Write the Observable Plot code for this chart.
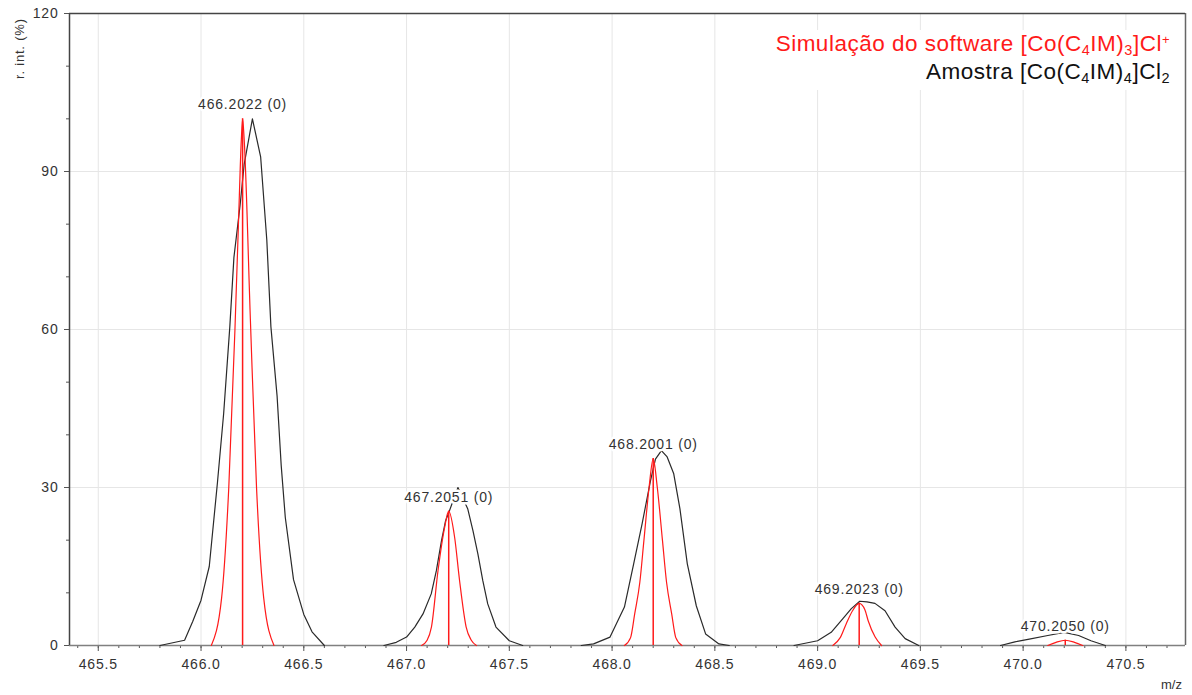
<!DOCTYPE html>
<html>
<head>
<meta charset="utf-8">
<script src="https://cdn.jsdelivr.net/npm/d3@7"></script>
<script src="https://cdn.jsdelivr.net/npm/@observablehq/plot@0.6"></script>
<style>
  html, body { margin: 0; padding: 0; background: #fff; }
  #wrap { position: relative; width: 1192px; height: 695px; font-family: "Liberation Sans", Arial, sans-serif; }
  #wrap svg text { letter-spacing: 0.8px; }
  #legend { position: absolute; left: 766px; top: 30px; width: 404px; height: 60px; background: #fff;
            text-align: right; font-size: 22.5px; line-height: 28px; letter-spacing: 0.5px; }
  #legend sub { font-size: 14.5px; vertical-align: -4px; line-height: 0; }
  #legend sup { font-size: 13px; vertical-align: 7px; line-height: 0; }
  .ytitle { position: absolute; left: 20px; top: 13px; font-size: 13px; color: #333; letter-spacing: 0.8px;
            transform-origin: 0 0; transform: translate(-8px, 66px) rotate(-90deg); white-space: nowrap; }
  .xtitle { position: absolute; left: 1161px; top: 677px; font-size: 13px; color: #333; }
</style>
</head>
<body>
<div id="wrap">
  <div id="chart"></div>
  <div id="legend">
    <div style="color:#ff1a1a">Simulação do software [Co(C<sub>4</sub>IM)<sub>3</sub>]Cl<sup>+</sup></div>
    <div style="color:#111">Amostra [Co(C<sub>4</sub>IM)<sub>4</sub>]Cl<sub>2</sub></div>
  </div>
  <div class="ytitle">r. int. (%)</div>
  <div class="xtitle">m/z</div>
</div>
<script>
// ---- Data ----
// simulated isotope sticks
const stickMz = [466.2022, 467.2051, 468.2001, 469.2023, 470.2050];
const stickInt = [100, 25.5, 35.5, 8.0, 1.0];
const stickLabels = ["466.2022 (0)", "467.2051 (0)", "468.2001 (0)", "469.2023 (0)", "470.2050 (0)"];

// measured sample profile (black), one array per peak
const sample1Mz  = [465.80, 465.92, 465.96, 466.00, 466.04, 466.08, 466.11, 466.14, 466.16, 466.19, 466.21, 466.25, 466.29, 466.32, 466.34, 466.37, 466.39, 466.41, 466.45, 466.50, 466.54, 466.60];
const sample1Int = [0, 1, 4.6, 8.6, 15, 31, 44, 60.5, 73.7, 83.6, 91.4, 100, 92.8, 77, 60.5, 47.4, 34.2, 24.3, 12.5, 5.9, 2.6, 0];
const sample2Mz  = [466.89, 466.95, 467.00, 467.04, 467.08, 467.12, 467.145, 467.17, 467.19, 467.206, 467.25, 467.298, 467.323, 467.347, 467.371, 467.395, 467.435, 467.50, 467.565];
const sample2Int = [0, 0.6, 1.6, 3.5, 6.0, 9.8, 14.2, 19.9, 23.7, 25.3, 30, 25.9, 21.8, 17.4, 12.3, 7.9, 3.5, 0.9, 0];
const sample3Mz  = [467.85, 467.91, 467.99, 468.06, 468.105, 468.146, 468.187, 468.211, 468.24, 468.268, 468.30, 468.33, 468.366, 468.41, 468.455, 468.52, 468.57];
const sample3Int = [0, 0.3, 1.6, 7.3, 15.5, 23.1, 31.3, 35.4, 37, 35.8, 32.6, 26, 15.5, 7.5, 2.2, 0.3, 0];
const sample4Mz  = [468.885, 469.00, 469.066, 469.123, 469.164, 469.205, 469.24, 469.279, 469.328, 469.377, 469.426, 469.492];
const sample4Int = [0, 0.9, 2.5, 5.1, 7.0, 8.4, 8.3, 8.0, 6.6, 3.5, 1.3, 0];
const sample5Mz  = [469.89, 469.96, 470.03, 470.12, 470.20, 470.27, 470.33, 470.40];
const sample5Int = [0, 0.7, 1.2, 1.9, 2.5, 1.9, 0.9, 0];

// simulated profile (red), one array per peak
const sim1Mz  = [466.05, 466.10, 466.135, 466.165, 466.182, 466.196, 466.2022, 466.21, 466.24, 466.27, 466.305, 466.355];
const sim1Int = [0, 9, 30, 60, 80, 96, 100, 96, 62, 30, 9, 0];
const sim2Mz  = [467.073, 467.10, 467.121, 467.153, 467.185, 467.2051, 467.234, 467.258, 467.29, 467.315, 467.34];
const sim2Int = [0, 1, 3.5, 14.2, 22.4, 25.5, 20.5, 12.3, 3.5, 1, 0];
const sim3Mz  = [468.06, 468.09, 468.11, 468.135, 468.155, 468.18, 468.2001, 468.22, 468.245, 468.265, 468.29, 468.31, 468.34];
const sim3Int = [0, 1.5, 6, 12, 20, 30, 35.5, 30, 20, 12, 6, 1.5, 0];
const sim4Mz  = [469.074, 469.11, 469.139, 469.17, 469.2023, 469.23, 469.246, 469.28, 469.311];
const sim4Int = [0, 1.5, 4.1, 6.6, 8, 6.8, 4.7, 1.6, 0];
const sim5Mz  = [470.12, 470.16, 470.205, 470.25, 470.29];
const sim5Int = [0, 0.6, 1.0, 0.6, 0];

const xTicks = [465.5, 466.0, 466.5, 467.0, 467.5, 468.0, 468.5, 469.0, 469.5, 470.0, 470.5];
const yTicks = [0, 30, 60, 90, 120];

// ---- build tables ----
const toRows = (mzs, ints, g) => mzs.map((m, i) => ({mz: m, v: ints[i], g}));
const sample = [
  ...toRows(sample1Mz, sample1Int, 1), ...toRows(sample2Mz, sample2Int, 2),
  ...toRows(sample3Mz, sample3Int, 3), ...toRows(sample4Mz, sample4Int, 4),
  ...toRows(sample5Mz, sample5Int, 5)
];
const sim = [
  ...toRows(sim1Mz, sim1Int, 1), ...toRows(sim2Mz, sim2Int, 2),
  ...toRows(sim3Mz, sim3Int, 3), ...toRows(sim4Mz, sim4Int, 4),
  ...toRows(sim5Mz, sim5Int, 5)
];
const sticks = stickMz.map((m, i) => ({mz: m, v: stickInt[i], label: stickLabels[i]}));

const xDomain = [465.36, 470.79];
const minorX = d3.range(4654, 4708).map(d => d / 10).filter(d => d > xDomain[0] && d < xDomain[1]);
const minorY = d3.range(0, 121, 10);

const chart = Plot.plot({
  width: 1192,
  height: 695,
  marginLeft: 69,
  marginRight: 7,
  marginTop: 13,
  marginBottom: 50,
  style: {fontFamily: "'Liberation Sans', Arial, sans-serif", background: "#fff", overflow: "visible"},
  x: {domain: xDomain, label: null},
  y: {domain: [0, 120], label: null},
  marks: [
    Plot.gridX(xTicks, {stroke: "#e6e6e6", strokeOpacity: 1}),
    Plot.gridY([30, 60, 90], {stroke: "#e6e6e6", strokeOpacity: 1}),
    Plot.axisX(minorX, {tickSize: 3, text: null, stroke: "#555", label: null}),
    Plot.axisX(xTicks, {tickSize: 6, tickPadding: 8, tickFormat: d3.format(".1f"), fontSize: 14, fill: "#333", stroke: "#555", label: null}),
    Plot.axisY(minorY, {tickSize: 3, text: null, stroke: "#555", label: null}),
    Plot.axisY(yTicks, {tickSize: 5, tickPadding: 6, fontSize: 14, fill: "#333", stroke: "#555", label: null}),
    Plot.ruleY([0], {stroke: "#808080", strokeWidth: 1.5}),
    Plot.line(sample, {x: "mz", y: "v", z: "g", stroke: "#2a2a2a", strokeWidth: 1.2}),
    Plot.line(sim, {x: "mz", y: "v", z: "g", stroke: "#ff1a1a", strokeWidth: 1.2, curve: "monotone-x"}),
    Plot.ruleX(sticks, {x: "mz", y1: 0, y2: "v", stroke: "#ff1a1a", strokeWidth: 1.5}),
    Plot.text(sticks, {x: "mz", y: "v", text: "label", dy: -14, fontSize: 14, fill: "#333", stroke: "white", strokeWidth: 5}),
    Plot.ruleX([xDomain[0]], {stroke: "#444", strokeWidth: 1.5}),
    Plot.ruleX([xDomain[1]], {stroke: "#666", strokeWidth: 1.5}),
    Plot.ruleY([120], {stroke: "#444", strokeWidth: 1.5})
  ]
});
document.getElementById("chart").appendChild(chart);
</script>
</body>
</html>
